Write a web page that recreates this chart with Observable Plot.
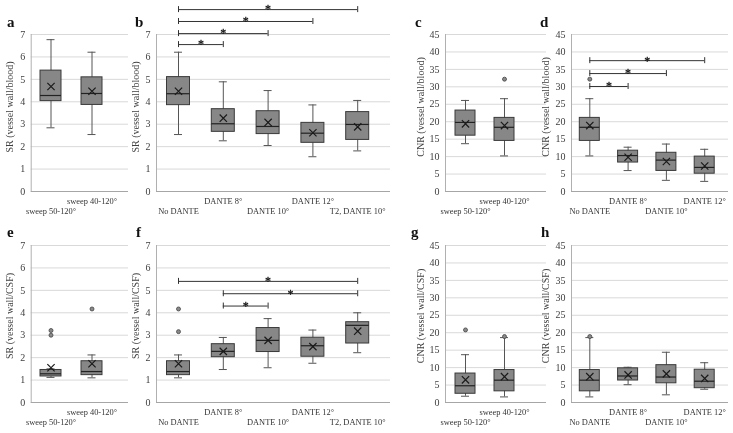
<!DOCTYPE html>
<html><head><meta charset="utf-8">
<script src="https://cdn.jsdelivr.net/npm/d3@7"></script>
<script src="https://cdn.jsdelivr.net/npm/@observablehq/plot@0.6"></script>
<style>
body{margin:0;background:#fff;}
#chart{position:relative;width:733px;height:433px;overflow:hidden;background:#fff;font-family:"Liberation Serif",serif;}
#chart svg{will-change:transform;}
.letter{position:absolute;font:bold 15px/15px "Liberation Serif",serif;color:#111;}
</style></head><body><div id="chart"></div>
<script>
// ---------- data ----------
const sweepCats = ["sweep 50-120°", "sweep 40-120°"];
const danteCats4 = ["No DANTE", "DANTE 8°", "DANTE 10°", "DANTE 12°"];
const danteCats5 = ["No DANTE", "DANTE 8°", "DANTE 10°", "DANTE 12°", "T2, DANTE 10°"];
const srTicks = [0, 1, 2, 3, 4, 5, 6, 7];
const cnrTicks = [0, 5, 10, 15, 20, 25, 30, 35, 40, 45];
const titles = ["SR (vessel wall/blood)", "CNR (vessel wall/blood)", "SR (vessel wall/CSF)", "CNR (vessel wall/CSF)"];
const letters = ["a", "b", "c", "d", "e", "f", "g", "h"];
const sigMark = "*";

// rows: [min, Q1, median, Q3, max, mean]
const statsA = [[2.84, 4.03, 4.28, 5.39, 6.77, 4.68], [2.54, 3.86, 4.37, 5.09, 6.21, 4.47]];
const statsB = [[2.54, 3.85, 4.36, 5.10, 6.21, 4.47], [2.26, 2.66, 3.02, 3.67, 4.89, 3.27],
                [2.05, 2.56, 2.90, 3.58, 4.50, 3.08], [1.55, 2.17, 2.60, 3.06, 3.86, 2.62],
                [1.81, 2.30, 2.99, 3.54, 4.06, 2.88]];
const statsC = [[13.7, 16.0, 19.8, 23.2, 26.1, 19.4], [10.2, 14.5, 18.4, 21.1, 26.6, 18.9]];
const statsD = [[10.2, 14.5, 18.4, 21.1, 26.6, 18.9], [6.0, 8.3, 10.3, 11.7, 12.7, 9.8],
                [3.2, 5.9, 9.0, 11.1, 13.6, 8.6], [2.9, 5.1, 6.9, 10.0, 12.1, 7.3]];
const statsE = [[1.12, 1.16, 1.28, 1.45, 1.50, 1.55], [1.10, 1.22, 1.38, 1.84, 2.12, 1.73]];
const statsF = [[1.10, 1.22, 1.38, 1.84, 2.12, 1.73], [1.47, 2.02, 2.28, 2.60, 2.90, 2.28],
                [1.55, 2.25, 2.77, 3.32, 3.74, 2.77], [1.75, 2.04, 2.53, 2.89, 3.23, 2.49],
                [2.22, 2.63, 3.44, 3.58, 4.00, 3.18]];
const statsG = [[1.8, 2.5, 4.8, 8.3, 13.7, 6.5], [1.6, 3.2, 6.4, 9.3, 18.6, 7.4]];
const statsH = [[1.6, 3.2, 6.4, 9.3, 18.6, 7.4], [5.1, 6.3, 7.6, 9.8, 10.1, 7.9],
                [2.2, 5.5, 7.3, 10.7, 14.4, 8.2], [3.8, 4.1, 6.1, 9.4, 11.4, 6.9]];

// outliers: [category index, value]
const outC = [[1, 32.2]];
const outD = [[0, 32.2]];
const outE = [[0, 3.21], [0, 3.0], [1, 4.17]];
const outF = [[0, 4.17], [0, 3.16]];
const outG = [[0, 20.8], [1, 18.9]];
const outH = [[0, 18.9]];

// significance brackets: [from index, to index, height]
const sigB = [[0, 1, 6.55], [0, 2, 7.04], [0, 3, 7.58], [0, 4, 8.11]];
const sigD = [[0, 1, 30.1], [0, 2, 33.8], [0, 3, 37.5]];
const sigF = [[1, 2, 4.3], [1, 4, 4.85], [0, 4, 5.4]];

// ---------- layout ----------
const rowTop = {top: 0, height: 222, frameTop: 34, frameBottom: 191, titleDy: -6};
const rowBot = {top: 215, height: 218, frameTop: 245, frameBottom: 402, titleDy: -8};
const colA = {svgLeft: 0, svgWidth: 140, L: 30.7, R: 128, c0: 50.5, step: 41, boxW: 21, titleDx: -21};
const colB = {svgLeft: 128, svgWidth: 270, L: 156, R: 390, c0: 178, step: 44.8, boxW: 23, titleDx: -21};
const colC = {svgLeft: 398, svgWidth: 152, L: 445, R: 546, c0: 465, step: 39, boxW: 20, titleDx: -25};
const colD = {svgLeft: 523, svgWidth: 210, L: 571, R: 728, c0: 589.3, step: 38.3, boxW: 20, titleDx: -26};

const chart = document.getElementById("chart");
const ink = "#333333";

function panel(stats, cats, yDomain, yTicks, title, row, col, outliers = [], brackets = []) {
  const {top, height, frameTop, frameBottom, titleDy} = row;
  const {svgLeft, svgWidth, L, R, c0, step, boxW, titleDx} = col;
  const x0 = (L - c0) / step, x1 = (R - c0) / step;
  const hw = boxW / 2 / step, cap = 4 / step;
  const data = stats.map((r, i) => ({i, low: r[0], q1: r[1], med: r[2], q3: r[3], high: r[4], mean: r[5]}));
  const labels = cats.map((c, i) => ({i, c}));
  const out = outliers.map(([i, v]) => ({i, v}));
  const br = brackets.map(([a, b, y]) => ({a, b, y, m: (a + b) / 2}));
  const svg = Plot.plot({
    width: svgWidth, height,
    marginLeft: L - svgLeft, marginRight: svgLeft + svgWidth - R,
    marginTop: frameTop - top, marginBottom: top + height - frameBottom,
    x: {type: "linear", domain: [x0, x1], axis: null},
    y: {domain: yDomain, label: null},
    style: {fontFamily: "Liberation Serif, serif", background: "transparent", overflow: "visible", color: ink},
    marks: [
      Plot.gridY({ticks: yTicks, stroke: "#d9d9d9", strokeOpacity: 1}),
      Plot.axisY({ticks: yTicks, tickFormat: d => String(d), tickSize: 0, tickPadding: 6, fontSize: 10, fill: "#404040", label: null}),
      Plot.ruleY([yDomain[0]], {stroke: "#a6a6a6"}),
      Plot.ruleX([x0], {stroke: "#b0b0b0"}),
      Plot.ruleX(data, {x: "i", y1: "low", y2: "high", stroke: "#555"}),
      Plot.ruleY(data, {y: "high", x1: d => d.i - cap, x2: d => d.i + cap, stroke: "#555"}),
      Plot.ruleY(data, {y: "low", x1: d => d.i - cap, x2: d => d.i + cap, stroke: "#555"}),
      Plot.rect(data, {x1: d => d.i - hw, x2: d => d.i + hw, y1: "q1", y2: "q3", fill: "#878787", stroke: "#3a3a3a", strokeWidth: 1}),
      Plot.ruleY(data, {y: "med", x1: d => d.i - hw, x2: d => d.i + hw, stroke: "#222", strokeWidth: 1.2}),
      Plot.dot(data, {x: "i", y: "mean", symbol: "times", r: 3.4, stroke: "#1a1a1a", strokeWidth: 1.2}),
      Plot.dot(out, {x: "i", y: "v", r: 2, fill: "#8a8a8a", stroke: "#444", strokeWidth: 0.8}),
      Plot.ruleY(br, {y: "y", x1: "a", x2: "b", stroke: "#333", strokeWidth: 1}),
      Plot.ruleX(br, {x: "a", y1: "y", y2: "y", insetTop: -3, insetBottom: -3, stroke: "#333"}),
      Plot.ruleX(br, {x: "b", y1: "y", y2: "y", insetTop: -3, insetBottom: -3, stroke: "#333"}),
      Plot.text(br, {x: "m", y: "y", text: () => sigMark, fontSize: 12, dy: 0, fill: "#111", stroke: "#111", strokeWidth: 0.3}),
      Plot.text(labels.filter(d => d.i % 2 === 0), {x: "i", y: () => yDomain[0], text: "c", dy: 19.5, fontSize: 8.4, fill: "#333"}),
      Plot.text(labels.filter(d => d.i % 2 === 1), {x: "i", y: () => yDomain[0], text: "c", dy: 10, fontSize: 8.4, fill: "#333"}),
      Plot.text([title], {text: d => d, frameAnchor: "left", textAnchor: "middle", rotate: -90, dx: titleDx, dy: titleDy, fontSize: 10, fill: "#404040"})
    ]
  });
  svg.style.position = "absolute";
  svg.style.left = svgLeft + "px";
  svg.style.top = top + "px";
  chart.appendChild(svg);
}

panel(statsA, sweepCats, [0, 7], srTicks, titles[0], rowTop, colA);
panel(statsB, danteCats5, [0, 7], srTicks, titles[0], rowTop, colB, [], sigB);
panel(statsC, sweepCats, [0, 45], cnrTicks, titles[1], rowTop, colC, outC);
panel(statsD, danteCats4, [0, 45], cnrTicks, titles[1], rowTop, colD, outD, sigD);
panel(statsE, sweepCats, [0, 7], srTicks, titles[2], rowBot, colA, outE);
panel(statsF, danteCats5, [0, 7], srTicks, titles[2], rowBot, colB, outF, sigF);
panel(statsG, sweepCats, [0, 45], cnrTicks, titles[3], rowBot, colC, outG);
panel(statsH, danteCats4, [0, 45], cnrTicks, titles[3], rowBot, colD, outH);

// panel letters
const letterPos = [[7, 15.4], [135, 15.4], [415, 15.4], [540, 15.4], [7, 225.4], [136, 225.4], [411, 225.4], [541, 225.4]];
letters.forEach((t, k) => {
  const el = document.createElement("div");
  el.className = "letter";
  el.textContent = t;
  el.style.left = letterPos[k][0] + "px";
  el.style.top = letterPos[k][1] + "px";
  chart.appendChild(el);
});
</script></body></html>
